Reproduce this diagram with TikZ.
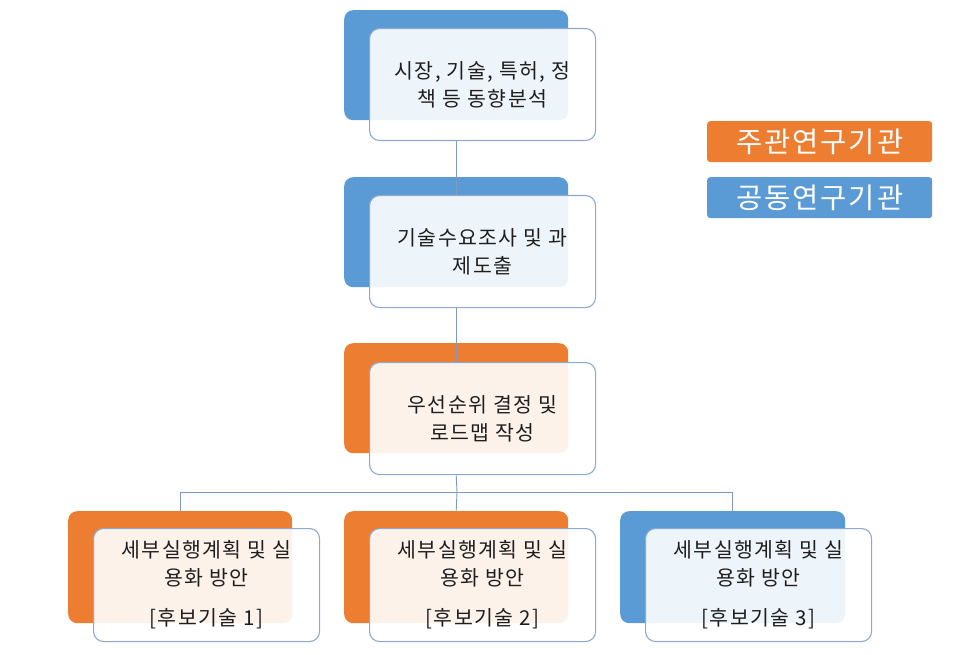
\documentclass[tikz,border=0pt]{standalone}
\usepackage{fontspec}
\setmainfont{Noto Sans CJK KR}[LetterSpace=7]
\definecolor{orng}{HTML}{ED7D31}
\definecolor{blu}{HTML}{5B9BD5}
\definecolor{frontc}{HTML}{8EAAD0}
\definecolor{linec}{HTML}{7F9CC0}
\definecolor{txt}{HTML}{1E1E1E}
\begin{document}
\begin{tikzpicture}[x=1pt,y=-1pt,
  back/.style={rounded corners=9pt, minimum width=224pt, minimum height=110pt, inner sep=0pt, anchor=north west},
  front/.style={draw=frontc, line width=1.1pt, fill=white, fill opacity=0.9, text opacity=1, rounded corners=10pt,
     minimum width=226pt, minimum height=112pt, inner sep=0pt, anchor=north west, align=center, text=txt,
     font=\fontsize{20.5}{28}\selectfont},
  legend/.style={rounded corners=3pt, minimum width=225pt, minimum height=41pt, inner sep=0pt, anchor=north west,
     text=white, font=\fontsize{28.5}{30}\selectfont},
  conn/.style={draw=linec, line width=0.9pt}]
\useasboundingbox (0,0) rectangle (975,655);
% back rectangles
\node[back, fill=blu] (b1) at (344,10) {};
\node[back, fill=blu] (b2) at (344,177) {};
\node[back, fill=orng] (b3) at (344,343) {};
\node[back, fill=orng, minimum height=112pt] (ba) at (68,511) {};
\node[back, fill=orng, minimum height=112pt] (bb) at (344,511) {};
\node[back, fill=blu, minimum height=112pt, minimum width=225pt] (bc) at (620,511) {};
% front boxes
\node[front] (f1) at (369,28) {시장, 기술, 특허, 정\\책 등 동향분석};
\node[front] (f2) at (369,195) {기술수요조사 및 과\\제도출};
\node[front] (f3) at (369,362) {우선순위 결정 및\\로드맵 작성};
\node[front, minimum height=113pt] (fa) at (93,528) {세부실행계획 및 실\\용화 방안\\[12pt][후보기술 1]};
\node[front, minimum height=113pt] (fb) at (369,528) {세부실행계획 및 실\\용화 방안\\[12pt][후보기술 2]};
\node[front, minimum height=113pt] (fc) at (645,528) {세부실행계획 및 실\\용화 방안\\[12pt][후보기술 3]};
% legend
\node[legend, fill=orng] (l1) at (707,121) {주관연구기관};
\node[legend, fill=blu] (l2) at (707,177) {공동연구기관};
% connectors
\draw[conn] (f1.south -| b1.south) -- (f2.north -| b2.north);
\draw[conn] (f2.south -| b2.south) -- (f3.north -| b3.north);
\coordinate (hub) at (457,492);
\draw[conn] (f3.south -| b3.south) -- (hub);
\draw[conn] (hub) -| (ba.north);
\draw[conn] (hub) -- (bb.north);
\draw[conn] (hub) -| (bc.north);
\end{tikzpicture}
\end{document}
